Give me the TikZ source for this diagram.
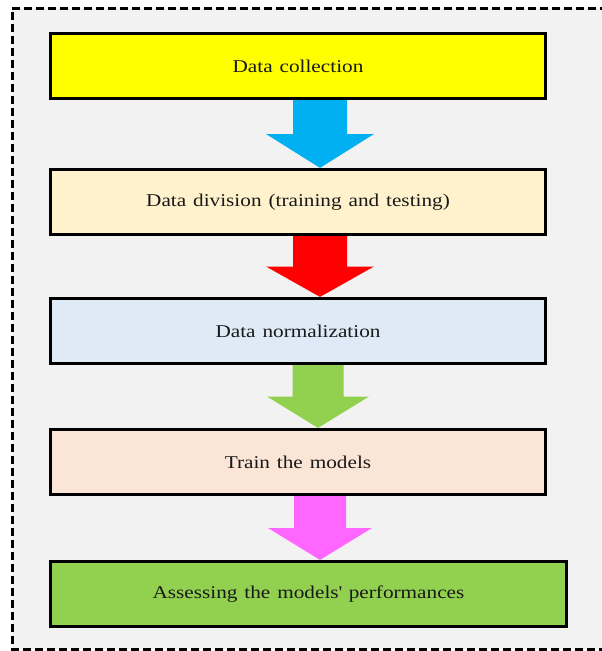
\documentclass[tikz,border=0pt]{standalone}
\usepackage{fontspec}
\setmainfont{Liberation Serif}
\newfontfamily\boxfont[FakeStretch=1.18, WordSpace=1.3]{Liberation Serif}
\usetikzlibrary{calc}
\definecolor{bggray}{HTML}{F2F2F2}
\definecolor{cyellow}{HTML}{FFFF00}
\definecolor{ccream}{HTML}{FFF2CC}
\definecolor{clblue}{HTML}{DEEBF7}
\definecolor{cpeach}{HTML}{FBE5D6}
\definecolor{cgreen}{HTML}{92D050}
\definecolor{ablue}{HTML}{00B0F0}
\definecolor{ared}{HTML}{FF0000}
\definecolor{agreen}{HTML}{92D050}
\definecolor{amagenta}{HTML}{FF66FF}
\tikzset{
  stagebox/.style={draw=black, line width=3.2pt, minimum width=495pt, minimum height=65pt,
    inner sep=0pt, font=\boxfont\fontsize{18}{22}\selectfont, text=black!90},
  frame/.style={draw=black, line width=3pt, dash pattern=on 8pt off 4pt, fill=bggray},
}
% #1 from node, #2 to node, #3 colour, #4 arrow x, #5 shaft half width, #6 head half width
\newcommand\flowarrow[6]{%
  \fill[#3] let \p1=(#1.south), \p2=(#2.north), \n1={(\y1+\y2)/2} in
    (#4-#5,\y1) -- (#4-#5,\n1) -- (#4-#6,\n1) -- (#4,\y2) -- (#4+#6,\n1) -- (#4+#5,\n1) -- (#4+#5,\y1) -- cycle;}
\begin{document}
\begin{tikzpicture}[x=1pt,y=-1pt]
\useasboundingbox (0,0) rectangle (602,651);
\clip (0,0) rectangle (602,651);
\path[frame] (620,8) -- (12,8) -- (12,649) -- (620,649);
\fill[bggray] (13.5,9.5) rectangle (620,647.5);
\node[stagebox, fill=cyellow] (b1) at (298,66) {Data collection};
\node[stagebox, fill=ccream] (b2) at (298,202) {Data division (training and testing)};
\node[stagebox, fill=clblue] (b3) at (298,331) {Data normalization};
\node[stagebox, fill=cpeach] (b4) at (298,462) {Train the models};
\node[stagebox, fill=cgreen, minimum width=516pt] (b5) at (308.5,594) {Assessing the models\textquotesingle\ performances};
\flowarrow{b1}{b2}{ablue}{320}{27}{54}
\flowarrow{b2}{b3}{ared}{320}{27}{54}
\flowarrow{b3}{b4}{agreen}{318}{25.5}{51}
\flowarrow{b4}{b5}{amagenta}{320}{26}{52}
\end{tikzpicture}
\end{document}
